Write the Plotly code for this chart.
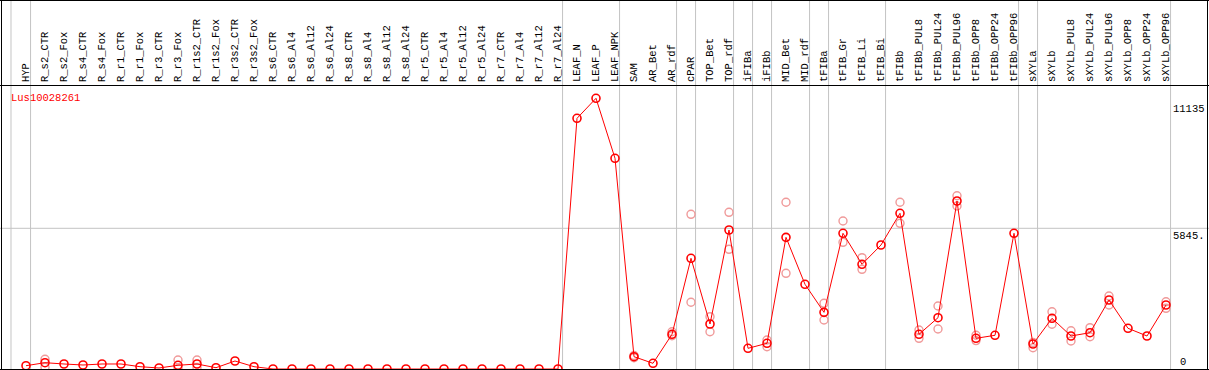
import plotly.graph_objects as go

categories = ["HYP", "R_s2_CTR", "R_s2_Fox", "R_s4_CTR", "R_s4_Fox", "R_r1_CTR", "R_r1_Fox",
              "R_r3_CTR", "R_r3_Fox", "R_r1s2_CTR", "R_r1s2_Fox", "R_r3s2_CTR", "R_r3s2_Fox",
              "R_s6_CTR", "R_s6_Al4", "R_s6_Al12", "R_s6_Al24", "R_s8_CTR", "R_s8_Al4", "R_s8_Al12",
              "R_s8_Al24", "R_r5_CTR", "R_r5_Al4", "R_r5_Al12", "R_r5_Al24", "R_r7_CTR", "R_r7_Al4",
              "R_r7_Al12", "R_r7_Al24", "LEAF_N", "LEAF_P", "LEAF_NPK", "SAM", "AR_Bet", "AR_rdf",
              "cPAR", "TOP_Bet", "TOP_rdf", "iFIBa", "iFIBb", "MID_Bet", "MID_rdf", "tFIBa",
              "tFIB_Gr", "tFIB_Li", "tFIB_Bi", "tFIBb", "tFIBb_PUL8", "tFIBb_PUL24", "tFIBb_PUL96",
              "tFIBb_OPP8", "tFIBb_OPP24", "tFIBb_OPP96", "sXYLa", "sXYLb", "sXYLb_PUL8",
              "sXYLb_PUL24", "sXYLb_PUL96", "sXYLb_OPP8", "sXYLb_OPP24", "sXYLb_OPP96"]

mean_values = [137, 262, 208, 166, 208, 208, 96, 42, 154, 208, 54, 332, 96,
               0, 0, 0, 0, 0, 0, 0, 0, 0, 0, 0, 0, 0, 0, 0, 0,
               10414, 11245, 8753, 511, 237, 1441, 4598, 1869, 5774, 859, 1067, 5470, 3518, 2354,
               5637, 4349, 5151, 6468, 1441, 2131, 6979, 1275, 1400, 5637, 1039, 2106, 1371,
               1508, 2866, 1691, 1371, 2659]

rep_high = [None, 403, None, None, None, None, None, None, 374, 374, None, None, None,
            None, None, None, None, None, None, None, None, None, None, None, None, None, None, None, None,
            None, None, None, 560, None, 1549, 6426, 2173, 6509, None, 1205, 6925, None, 2729,
            6148, 4624, None, 6925, 1620, 2617, 7199, 1400, None, None, 1100, 2380, 1591,
            1716, 3032, None, None, 2796]
rep_low = [None, 71, None, None, None, None, None, None, 29, 60, None, None, None,
           None, None, None, None, None, None, None, None, None, None, None, None, None, None, None, None,
           None, None, None, 470, None, 1380, 2771, 1549, 4972, None, 926, 3975, None, 2035,
           5263, 4141, None, 6052, 1275, 1662, 6771, 1180, None, None, 885, 1857, 1163,
           1342, 2659, None, None, 2521]

# last category index of each group (separator drawn after it)
group_ends = [0, 28, 31, 34, 35, 37, 38, 39, 41, 42, 45, 52, 53, 60]

gene = "Lus10028261"
y_ticks = [11135, 5845]
y_tick_text = ["11135", "5845."]

W, H = 1209, 370
TOP = 85
x_idx = list(range(len(categories)))

FONT = "Liberation Mono"
px_per_unit = 19.0
x0 = -26 / px_per_unit
x1 = x0 + W / px_per_unit
y_top = 11798
y_bot = -41.5

fig = go.Figure()

rep_x = x_idx + x_idx
rep_y = rep_high + rep_low
fig.add_trace(go.Scatter(
    x=rep_x, y=rep_y, mode="markers",
    marker=dict(symbol="circle-open", size=8, color="#f09a9a", line=dict(width=1.4, color="#f09a9a")),
    cliponaxis=False, hoverinfo="skip", showlegend=False))

fig.add_trace(go.Scatter(
    x=x_idx, y=mean_values, mode="lines+markers",
    line=dict(color="#ff0000", width=1),
    marker=dict(symbol="circle-open", size=8, color="#ff0000", line=dict(width=1.6, color="#ff0000")),
    cliponaxis=False, showlegend=False))

top_paper = (H - 0.5) / (H - TOP)
shapes = []
sep_positions = [-0.79] + [e + 0.24 for e in group_ends]
for s in sep_positions:
    shapes.append(dict(type="line", xref="x", yref="paper", x0=s, x1=s, y0=0, y1=top_paper,
                       line=dict(color="#c4c4c4", width=1), layer="below"))
shapes.append(dict(type="line", xref="paper", yref="y", x0=0, x1=1, y0=5845, y1=5845,
                   line=dict(color="#c4c4c4", width=1), layer="below"))


def px_x(p):
    return p / W


def px_y(p):
    return (H - p) / (H - TOP)


black = dict(color="black", width=1)
shapes += [
    dict(type="line", xref="paper", yref="paper", x0=0, x1=1, y0=px_y(0.5), y1=px_y(0.5), line=black),
    dict(type="line", xref="paper", yref="paper", x0=0, x1=1, y0=px_y(85.5), y1=px_y(85.5), line=black),
    dict(type="line", xref="paper", yref="paper", x0=0, x1=1, y0=px_y(369.5), y1=px_y(369.5), line=black),
    dict(type="line", xref="paper", yref="paper", x0=px_x(1.5), x1=px_x(1.5), y0=px_y(0), y1=px_y(370), line=black),
    dict(type="line", xref="paper", yref="paper", x0=px_x(1207.5), x1=px_x(1207.5), y0=px_y(0), y1=px_y(370), line=black),
]

annotations = [
    dict(text=gene, xref="paper", yref="paper", x=px_x(9), y=px_y(97.5), xanchor="left", yanchor="middle",
         showarrow=False, font=dict(family=FONT, size=10.5, color="#ff0000")),
]
for v, t in zip(y_ticks, y_tick_text):
    annotations.append(dict(text=t, xref="paper", yref="y", x=px_x(1207), y=v, xanchor="right", yanchor="top",
                            showarrow=False, font=dict(family=FONT, size=10.5, color="black")))
annotations.append(dict(text="0", xref="paper", yref="paper", x=px_x(1178), y=px_y(362), xanchor="left",
                        yanchor="middle", showarrow=False, font=dict(family=FONT, size=10.5, color="black")))

fig.update_layout(
    width=W, height=H,
    margin=dict(l=0, r=0, t=TOP, b=0, pad=0),
    paper_bgcolor="white", plot_bgcolor="white",
    xaxis=dict(range=[x0, x1], side="top", tickmode="array", tickvals=x_idx, ticktext=categories,
               tickangle=-90, ticks="", showgrid=False, zeroline=False, showline=False,
               ticklabelstandoff=2,
               tickfont=dict(family=FONT, size=10.5, color="black"), fixedrange=True),
    yaxis=dict(range=[y_bot, y_top], showticklabels=False, showgrid=False, zeroline=False,
               showline=False, ticks="", fixedrange=True),
    shapes=shapes, annotations=annotations,
)

fig.write_html("out.html", config={"displayModeBar": False},
               post_script="document.body.style.margin='0';document.body.style.padding='0';")
